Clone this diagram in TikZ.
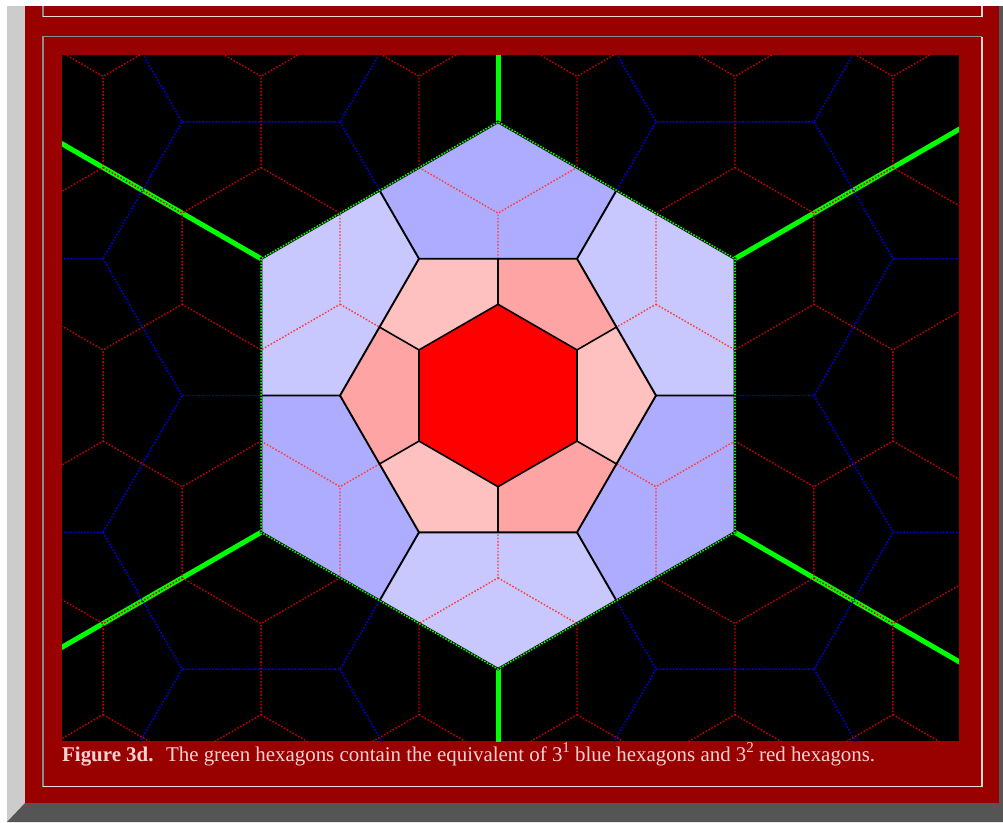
\documentclass[tikz,border=0pt]{standalone}
\usepackage{fontspec}
\setmainfont{Liberation Serif}
\usepackage{xcolor}
\definecolor{framered}{RGB}{153,0,0}
\definecolor{shadelight}{RGB}{204,204,204}
\definecolor{shadedark}{RGB}{85,85,85}
\definecolor{insetgrey}{RGB}{140,140,140}
\definecolor{insetpink}{RGB}{240,215,215}
\definecolor{gridred}{RGB}{200,0,0}
\definecolor{gridblue}{RGB}{0,0,235}
\definecolor{gridgreen}{RGB}{0,255,0}
\definecolor{innerred}{RGB}{255,60,60}
\definecolor{lavlight}{RGB}{200,200,255}
\definecolor{lavdark}{RGB}{174,172,255}
\definecolor{pinklight}{RGB}{255,192,192}
\definecolor{pinkdark}{RGB}{255,164,164}
\definecolor{captionpink}{RGB}{255,210,210}
\tikzstyle{redgrid}    = [line width=1.4pt, draw=gridred, dash pattern=on 1.6pt off 1.7pt]
\tikzstyle{bluegrid}   = [line width=1.4pt, draw=gridblue, dash pattern=on 1.6pt off 1.7pt]
\tikzstyle{innergrid}  = [line width=1.4pt, draw=innerred, dash pattern=on 1.6pt off 1.7pt]
\tikzstyle{redwall}    = [line width=1.6pt, draw=black]
\tikzstyle{bluewall}   = [line width=1.9pt, draw=black]
\tikzstyle{greenline}  = [line width=5pt, draw=gridgreen]
\tikzstyle{insetdark}  = [line width=1.5pt, draw=insetgrey]
\tikzstyle{insetlight} = [line width=1.5pt, draw=insetpink]
\tikzstyle{caption}    = [text=captionpink, font=\fontsize{20.9}{24}\selectfont, inner sep=0pt]
% hex lattices, drawn around the centre (498,395.5)
\newcommand{\redlattice}[1]{%
  \foreach \j in {-3,...,3}{
    \foreach \i in {-6,...,6}{
      \draw[#1, shift={(157.96*\i+78.98*\j, 136.8*\j)}]
        (150:91.2) -- (90:91.2) -- (30:91.2) -- (-30:91.2);
    }}}
\newcommand{\bluelattice}[1]{%
  \foreach \i in {-3,...,3}{
    \foreach \j in {-3,...,3}{
      \draw[#1, shift={(237*\i, 273.6*\j+136.8*\i)}]
        (180:158) -- (120:158) -- (60:158) -- (0:158);
    }}}
\newcommand{\supnum}[1]{\raisebox{0.42em}{\fontsize{15}{15}\selectfont #1}}

\begin{document}
\begin{tikzpicture}[x=1pt, y=-1pt]
\useasboundingbox (0,0) rectangle (1003,822);
\fill[white] (0,0) rectangle (1003,822);
% page frame
\fill[shadelight] (7,6) rectangle (25,822);
\fill[shadedark] (7,822) -- (25,803) -- (1003,803) -- (1003,822) -- cycle;
\fill[shadedark] (999,6) rectangle (1003,803);
\fill[framered] (25,6) rectangle (999,803);
\draw[insetdark] (43,6) -- (43,16.5);
\draw[insetlight] (43,16.5) -- (982,16.5) -- (982,6);
\draw[insetdark] (43,786.5) -- (43,36.5) -- (982,36.5);
\draw[insetlight] (982,36.5) -- (982,786.5) -- (43,786.5);
\fill[black] (62,55) rectangle (959,741);

\begin{scope}
  \clip (62,55) rectangle (959,741);
  \begin{scope}[shift={(498,395.5)}]
    % outer lattices
    \foreach \a in {30,90,...,330}
      \draw[greenline] (\a:273.6) -- (\a:547.2);
    \redlattice{redgrid}
    \bluelattice{bluegrid}
    % green hexagon
    \fill[lavlight] (30:273.6) \foreach \a in {90,150,...,330}{ -- (\a:273.6)} -- cycle;
    \begin{scope}
      \clip (30:273.6) \foreach \a in {90,150,...,330}{ -- (\a:273.6)} -- cycle;
      \foreach \a in {30,150,270}
        \fill[lavdark, shift={(\a:273.6)}] (0:158) \foreach \b in {60,120,...,300}{ -- (\b:158)} -- cycle;
      \redlattice{innergrid}
      % central blue hexagon
      \fill[pinklight] (0:158) \foreach \b in {60,120,...,300}{ -- (\b:158)} -- cycle;
      \begin{scope}
        \clip (0:158) \foreach \b in {60,120,...,300}{ -- (\b:158)} -- cycle;
        \foreach \b in {60,180,300}
          \fill[pinkdark, shift={(\b:158)}] (30:91.2) \foreach \c in {90,150,...,330}{ -- (\c:91.2)} -- cycle;
        \fill[red] (30:91.2) \foreach \c in {90,150,...,330}{ -- (\c:91.2)} -- cycle;
        \redlattice{redwall}
      \end{scope}
      \bluelattice{bluewall}
    \end{scope}
    \draw[black, line width=2.6pt] (30:273.6) \foreach \a in {90,150,...,330}{ -- (\a:273.6)} -- cycle;
    \draw[gridgreen, line width=1.6pt, dash pattern=on 1.5pt off 1.5pt] (30:273.6) \foreach \a in {90,150,...,330}{ -- (\a:273.6)} -- cycle;
  \end{scope}
\end{scope}

\node[caption, anchor=base west] (cap) at (62,761)
  {{\bfseries Figure 3d.}\hspace{0.6em}The green hexagons contain the equivalent of 3\supnum{1} blue hexagons and 3\supnum{2} red hexagons.};
\end{tikzpicture}
\end{document}
